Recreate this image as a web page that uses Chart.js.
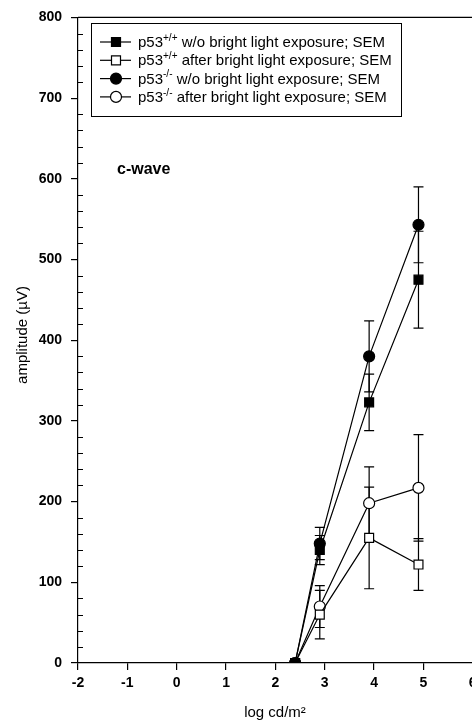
<!DOCTYPE html>
<html>
<head>
<meta charset="utf-8">
<script src="https://cdn.jsdelivr.net/npm/chart.js@4.4.1/dist/chart.umd.min.js"></script>
<style>
  html, body { margin: 0; padding: 0; background: #fff; overflow: hidden; }
  #wrap { width: 472px; height: 725px; overflow: hidden; }
</style>
</head>
<body>
<div id="wrap"><canvas id="c" width="500" height="725"></canvas></div>
<script>
// log luminance (x positions)
var xValues = [2.4, 2.9, 3.9, 4.9];
// c-wave amplitudes (µV) and SEM
var wtDark = [0, 140, 323, 475];
var wtDarkErr = [0, 18, 35, 60];
var wtLight = [0, 60, 155, 122];
var wtLightErr = [0, 30, 63, 32];
var koDark = [0, 148, 380, 543];
var koDarkErr = [0, 20, 44, 47];
var koLight = [0, 70, 198, 217];
var koLightErr = [0, 26, 45, 66];
var xTicks = [-2, -1, 0, 1, 2, 3, 4, 5, 6];
var yTicks = [0, 100, 200, 300, 400, 500, 600, 700, 800];

var legendRows = [
  { sup: '+/+', text: ' w/o bright light exposure; SEM', style: 'rect', fill: true },
  { sup: '+/+', text: ' after bright light exposure; SEM', style: 'rect', fill: false },
  { sup: '-/-', text: ' w/o bright light exposure; SEM', style: 'circle', fill: true },
  { sup: '-/-', text: ' after bright light exposure; SEM', style: 'circle', fill: false }
];

var FONT = '"Liberation Sans", Arial, sans-serif';

function pts(ys) {
  return xValues.map(function (x, i) { return { x: x, y: ys[i] }; });
}

function ds(ys, errs, style, filled) {
  return {
    data: pts(ys),
    errs: errs,
    showLine: true,
    borderColor: '#000',
    borderWidth: 1.2,
    pointStyle: style,
    pointRadius: style === 'rect' ? 6.3 : 5.5,
    pointBorderWidth: 1.2,
    pointBackgroundColor: filled ? '#000' : '#fff',
    pointBorderColor: '#000',
    backgroundColor: filled ? '#000' : '#fff'
  };
}

function drawMarker(ctx, style, filled, x, y) {
  ctx.save();
  ctx.lineWidth = 1.2;
  ctx.strokeStyle = '#000';
  ctx.fillStyle = filled ? '#000' : '#fff';
  ctx.beginPath();
  if (style === 'rect') {
    ctx.rect(x - 4.5, y - 4.5, 9, 9);
  } else {
    ctx.arc(x, y, 5.5, 0, Math.PI * 2);
  }
  ctx.fill();
  ctx.stroke();
  ctx.restore();
}

var errorBars = {
  id: 'errorBars',
  beforeDatasetsDraw: function (chart) {
    var ctx = chart.ctx, xs = chart.scales.x, ys = chart.scales.y;
    ctx.save();
    ctx.strokeStyle = '#000';
    ctx.lineWidth = 1.2;
    chart.data.datasets.forEach(function (d) {
      d.data.forEach(function (p, i) {
        var e = d.errs[i];
        if (!e) return;
        var px = xs.getPixelForValue(p.x);
        var top = ys.getPixelForValue(p.y + e);
        var bot = ys.getPixelForValue(p.y - e);
        ctx.beginPath();
        ctx.moveTo(px, top); ctx.lineTo(px, bot);
        ctx.moveTo(px - 5, top); ctx.lineTo(px + 5, top);
        ctx.moveTo(px - 5, bot); ctx.lineTo(px + 5, bot);
        ctx.stroke();
      });
    });
    ctx.restore();
  }
};

var decorations = {
  id: 'decorations',
  afterDraw: function (chart) {
    var ctx = chart.ctx, a = chart.chartArea, ys = chart.scales.y;
    ctx.save();
    ctx.strokeStyle = '#000';
    ctx.lineWidth = 1.2;
    // top frame line
    ctx.beginPath();
    ctx.moveTo(a.left, a.top);
    ctx.lineTo(a.right, a.top);
    ctx.stroke();
    // minor inward ticks on y
    ctx.lineWidth = 1;
    ctx.beginPath();
    for (var v = 20; v < 800; v += 20) {
      if (v % 100 === 0) continue;
      var py = Math.round(ys.getPixelForValue(v)) + 0.5;
      ctx.moveTo(a.left, py);
      ctx.lineTo(a.left + 5, py);
    }
    ctx.stroke();

    ctx.fillStyle = '#000';
    ctx.textBaseline = 'middle';
    // axis titles
    ctx.font = '15px ' + FONT;
    ctx.textAlign = 'center';
    ctx.fillText('log cd/m²', 275, 713);
    ctx.save();
    ctx.translate(23, 335);
    ctx.rotate(-Math.PI / 2);
    ctx.fillText('amplitude (µV)', 0, 0);
    ctx.restore();

    // label
    ctx.textAlign = 'left';
    ctx.font = 'bold 16px ' + FONT;
    ctx.fillText('c-wave', 117, 170);

    // legend box
    ctx.lineWidth = 1;
    ctx.strokeRect(91.5, 23.5, 310, 93);
    legendRows.forEach(function (r, i) {
      var y = 42 + i * 18.3;
      ctx.lineWidth = 1.2;
      ctx.beginPath();
      ctx.moveTo(100, y); ctx.lineTo(131, y);
      ctx.stroke();
      drawMarker(ctx, r.style, r.fill, 116, y);
      ctx.fillStyle = '#000';
      ctx.textBaseline = 'middle';
      ctx.font = '15px ' + FONT;
      var x = 138;
      ctx.fillText('p53', x, y + 1);
      x += ctx.measureText('p53').width;
      ctx.font = '10px ' + FONT;
      ctx.fillText(r.sup, x, y - 4);
      x += ctx.measureText(r.sup).width;
      ctx.font = '15px ' + FONT;
      ctx.fillText(r.text, x, y + 1);
    });
    ctx.restore();
  }
};

new Chart(document.getElementById('c'), {
  type: 'scatter',
  data: {
    datasets: [
      ds(wtDark, wtDarkErr, 'rect', true),
      ds(wtLight, wtLightErr, 'rect', false),
      ds(koLight, koLightErr, 'circle', false),
      ds(koDark, koDarkErr, 'circle', true)
    ]
  },
  options: {
    responsive: false,
    animation: false,
    devicePixelRatio: 1,
    layout: { padding: { top: 17, right: 3, left: 0, bottom: 0 } },
    plugins: { legend: { display: false }, tooltip: { enabled: false } },
    scales: {
      x: {
        type: 'linear',
        min: -2,
        max: 6.4,
        afterBuildTicks: function (s) {
          s.ticks = xTicks.map(function (v) { return { value: v }; });
        },
        afterFit: function (s) { s.height = 62; },
        border: { color: '#000', width: 1.2 },
        grid: { drawOnChartArea: false, color: '#000', tickLength: 7, lineWidth: 1.2 },
        ticks: { color: '#000', padding: 5, maxRotation: 0, font: { family: FONT, size: 14, weight: 'bold' } }
      },
      y: {
        min: 0,
        max: 800,
        afterBuildTicks: function (s) {
          s.ticks = yTicks.map(function (v) { return { value: v }; });
        },
        afterFit: function (s) { s.width = 78; },
        border: { color: '#000', width: 1.2 },
        grid: { drawOnChartArea: false, color: '#000', tickLength: 7, lineWidth: 1.2 },
        ticks: { color: '#000', padding: 9, font: { family: FONT, size: 14, weight: 'bold' } }
      }
    }
  },
  plugins: [errorBars, decorations]
});
</script>
</body>
</html>
